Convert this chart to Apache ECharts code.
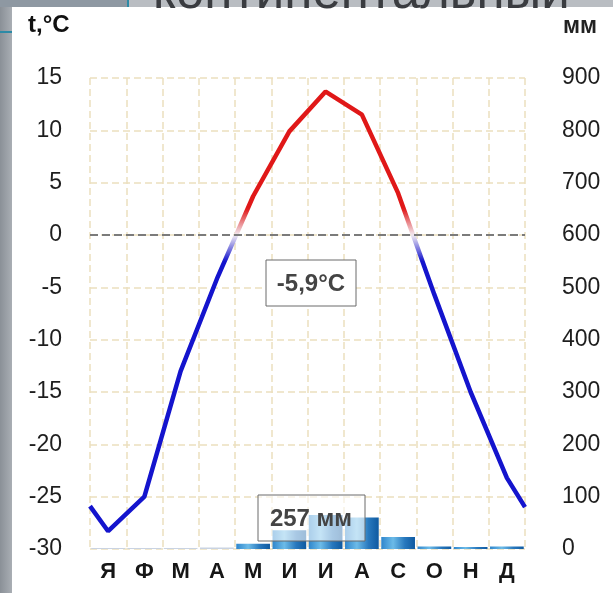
<!DOCTYPE html>
<html>
<head>
<meta charset="utf-8">
<script src="https://cdn.jsdelivr.net/npm/echarts@6/dist/echarts.min.js"></script>
<style>
  html, body { margin: 0; padding: 0; background: #ffffff; }
  #chart { width: 613px; height: 593px; }
</style>
</head>
<body>
<div id="chart"></div>
<script>
// Monthly climate data: mean air temperature (°C) and precipitation (mm)
const months = ['Я', 'Ф', 'М', 'А', 'М', 'И', 'И', 'А', 'С', 'О', 'Н', 'Д'];
const tempC = [-28.3, -25.0, -13.0, -4.2, 3.7, 9.9, 13.7, 11.5, 4.0, -5.7, -15.0, -23.2];
// temperature where the curve meets the left and right plot borders
const tempAtBorders = [-25.9, -26.0];
const precipMm = [2, 2, 2, 3, 10, 36, 65, 60, 23, 5, 4, 5];

const tempTicks = { min: -30, max: 15, step: 5 };
const precipTicks = { min: 0, max: 900, step: 100 };

const titleText = 'континентальный';
const tempUnit = 't,°C';
const precipUnit = 'мм';
const meanTempText = '-5,9°C';
const totalPrecipText = '257 мм';

const FONT = '"Liberation Sans", Arial, sans-serif';

// line points sit at month centres; the curve runs on to both borders
const linePoints = [[0, tempAtBorders[0]]]
  .concat(tempC.map((t, i) => [i + 0.5, t]))
  .concat([[months.length, tempAtBorders[1]]]);

// blue below zero, red above, fading through a pale tint around 0 °C
function mix(a, b, k) {
  const c = a.map((v, i) => Math.round(v + (b[i] - v) * k));
  return 'rgb(' + c.join(',') + ')';
}
const BLUE = [20, 20, 205], RED = [224, 24, 24], PALE = [242, 236, 242];
const lineColors = [];
for (let v = tempTicks.min; v <= tempTicks.max + 1e-9; v += 0.5) {
  let c;
  if (v <= -2.5) c = mix(BLUE, BLUE, 0);
  else if (v >= 2.5) c = mix(RED, RED, 0);
  else if (v < 0) c = mix(BLUE, PALE, (v + 2.5) / 2.5);
  else c = mix(PALE, RED, v / 2.5);
  lineColors.push(c);
}

const barGradient = new echarts.graphic.LinearGradient(0, 0, 1, 0, [
  { offset: 0, color: '#2f86cc' },
  { offset: 0.35, color: '#6cbbe8' },
  { offset: 0.7, color: '#2878bd' },
  { offset: 1, color: '#0f5aa0' }
]);

const gridDash = { color: '#ecdfbf', width: 1.5, type: [7, 4] };

const chart = echarts.init(document.getElementById('chart'), null, { renderer: 'canvas' });

chart.setOption({
  backgroundColor: '#ffffff',
  animation: false,
  grid: { left: 90, right: 88, top: 78, bottom: 44 },
  xAxis: [
    {
      type: 'category',
      data: months,
      boundaryGap: true,
      axisLine: { show: false },
      axisTick: { show: false },
      axisLabel: { color: '#161616', fontFamily: FONT, fontSize: 22, fontWeight: 'bold', margin: 12, interval: 0 },
      splitLine: { show: true, interval: 0, lineStyle: gridDash }
    },
    { type: 'value', min: 0, max: months.length, show: false }
  ],
  yAxis: [
    {
      type: 'value', position: 'left',
      min: tempTicks.min, max: tempTicks.max, interval: tempTicks.step,
      axisLine: { show: false }, axisTick: { show: false },
      axisLabel: { color: '#1e1e1e', fontFamily: FONT, fontSize: 23, margin: 28 },
      splitLine: { show: true, lineStyle: gridDash }
    },
    {
      type: 'value', position: 'right',
      min: precipTicks.min, max: precipTicks.max, interval: precipTicks.step,
      axisLine: { show: false }, axisTick: { show: false },
      axisLabel: { color: '#1e1e1e', fontFamily: FONT, fontSize: 23, margin: 37 },
      splitLine: { show: false }
    }
  ],
  visualMap: {
    type: 'continuous', show: false, seriesIndex: 1, dimension: 1,
    min: tempTicks.min, max: tempTicks.max,
    inRange: { color: lineColors }
  },
  series: [
    {
      name: 'precip', type: 'bar', xAxisIndex: 0, yAxisIndex: 1,
      barCategoryGap: '7%',
      data: precipMm.map(v => v < 4 ? { value: v, itemStyle: { color: '#c9d3e2' } } : v),
      itemStyle: { color: barGradient },
      z: 2
    },
    {
      name: 'temp', type: 'line', xAxisIndex: 1, yAxisIndex: 0,
      data: linePoints, symbol: 'none', smooth: false,
      lineStyle: { width: 4.5 },
      z: 3,
      markLine: {
        silent: true, symbol: ['none', 'none'], label: { show: false },
        lineStyle: { color: '#7b7b7b', width: 2, type: [8, 4] },
        data: [{ yAxis: 0 }]
      }
    }
  ],
  graphic: [
    // slide backdrop around the chart card
    { type: 'rect', z: -20, shape: { x: 0, y: 0, width: 613, height: 593 }, style: { fill: '#b9bdc2' } },
    { type: 'rect', z: -19, shape: { x: 0, y: 0, width: 12, height: 593 },
      style: { fill: new echarts.graphic.LinearGradient(0, 0, 1, 0, [
        { offset: 0, color: '#8a9097' }, { offset: 1, color: '#a9aeb4' }]) } },
    { type: 'rect', z: -19, shape: { x: 0, y: 0, width: 128, height: 7 }, style: { fill: '#8e98a2' } },
    { type: 'rect', z: -18, shape: { x: 0, y: 31, width: 12, height: 2 }, style: { fill: '#2d8aa6' } },
    { type: 'rect', z: -18, shape: { x: 127, y: 0, width: 2, height: 7 }, style: { fill: '#2d8aa6' } },
    { type: 'rect', z: -17, shape: { x: 12, y: 7, width: 601, height: 586 }, style: { fill: '#ffffff' } },
    { type: 'text', z: -16, x: 153, y: 19,
      style: { text: titleText, font: '51px ' + FONT, fill: '#3a3c40', verticalAlign: 'bottom' } },
    // axis units
    { type: 'text', z: 10, x: 28, y: 25,
      style: { text: tempUnit, font: 'bold 24px ' + FONT, fill: '#111', verticalAlign: 'middle' } },
    { type: 'text', z: 10, x: 563, y: 27,
      style: { text: precipUnit, font: 'bold 23px ' + FONT, fill: '#222', verticalAlign: 'middle' } },
    // annual mean temperature
    { type: 'rect', z: 60, shape: { x: 266, y: 260, width: 90, height: 46 },
      style: { fill: '#ffffff', stroke: '#6a6a6a', lineWidth: 1 } },
    { type: 'text', z: 61, x: 311, y: 284,
      style: { text: meanTempText, font: 'bold 24px ' + FONT, fill: '#444', align: 'center', verticalAlign: 'middle' } },
    // annual precipitation total
    { type: 'rect', z: 60, shape: { x: 258, y: 495, width: 107, height: 46 },
      style: { fill: 'rgba(255,255,255,0.6)', stroke: '#6a6a6a', lineWidth: 1 } },
    { type: 'text', z: 61, x: 311, y: 519,
      style: { text: totalPrecipText, font: 'bold 24px ' + FONT, fill: '#444', align: 'center', verticalAlign: 'middle' } }
  ]
});
</script>
</body>
</html>
